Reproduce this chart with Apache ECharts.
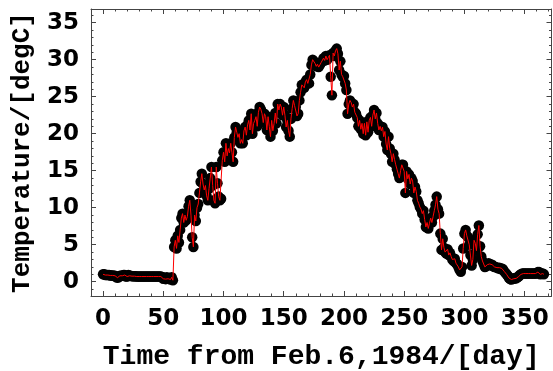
<!DOCTYPE html>
<html>
<head>
<meta charset="utf-8">
<script src="https://cdn.jsdelivr.net/npm/echarts@6/dist/echarts.min.js"></script>
<style>
  html, body { margin: 0; padding: 0; background: #fff; }
  #chart { width: 553px; height: 371px; }
</style>
</head>
<body>
<div id="chart"></div>
<script>
// Daily water temperature [degC], one value per day starting Feb. 6, 1984
const tempWinter = [
  1.0, 1.0, 0.9, 0.9, 0.9, 0.9, 0.85, 0.85, 0.85, 0.8,
  0.8, 0.6, 0.55, 0.6, 0.8, 0.8, 0.8, 0.9, 0.9, 0.7,
  0.7, 0.9, 0.8, 0.8, 0.75, 0.75, 0.75, 0.75, 0.7, 0.7,
  0.7, 0.7, 0.7, 0.7, 0.7, 0.7, 0.7, 0.7, 0.7, 0.7,
  0.7, 0.7, 0.7, 0.7, 0.7, 0.7, 0.7, 0.7, 0.7, 0.65,
  0.4, 0.55, 0.35, 0.6, 0.4, 0.5, 0.3, 0.6, 0.2
];
const tempSpring = [
  4.7, 5.6, 4.5, 6.2, 5.3, 7.0, 8.6, 9.2, 8.0, 9.0,
  8.3, 8.8, 10.2, 11.0, 9.0, 6.0, 4.7, 9.0, 8.2, 10.0,
  10.5, 12.0, 13.5, 14.6, 13.2, 12.4, 13.0, 11.6, 11.0, 12.6,
  14.0, 15.5, 13.0, 11.0, 10.6, 15.5, 13.3, 11.5, 11.0, 11.2,
  16.4, 17.5, 16.2, 18.7, 17.0, 18.0, 17.4, 18.7, 17.5, 16.2,
  19.5, 20.9
];
const tempEarlySummer = [
  20.2, 19.5, 20.0, 18.7, 19.2, 18.7, 20.4, 20.9, 19.8, 21.2,
  21.8, 20.5, 22.7, 20.0, 21.4, 21.8, 22.3, 21.0, 22.9, 23.6,
  23.3, 22.7, 21.5, 22.7, 22.3, 20.5, 22.3, 21.0, 19.6, 21.8,
  20.4, 21.4, 22.8, 21.4, 24.0, 23.2, 24.0, 23.6, 22.5, 23.6,
  22.5, 20.9, 21.8, 20.4, 19.6, 22.0, 23.4, 24.5, 23.8, 23.6,
  22.4, 22.7, 24.5, 25.6, 26.6
];
const tempSummer = [
  26.6, 26.2, 27.0, 27.3, 26.8, 26.8, 28.0, 29.3, 30.0, 29.8,
  29.5, 29.1, 29.4, 29.0, 29.3, 29.6, 29.8, 30.2, 29.9, 30.5,
  30.0, 30.3, 30.6, 27.7, 25.2, 30.9, 30.5, 31.2, 31.5, 30.8,
  28.6, 29.8, 28.0, 27.7, 27.8, 26.8, 25.9, 22.7, 24.0, 24.5,
  24.2, 23.6, 24.0, 22.9, 22.7, 22.2, 21.0, 21.8, 20.6, 21.4,
  20.0, 21.4, 19.8, 21.6, 20.2
];
const tempAutumn = [
  21.8, 22.2, 21.0, 22.5, 23.2, 22.0, 22.8, 21.4, 20.5, 21.0,
  20.4, 20.9, 19.6, 20.3, 18.6, 17.8, 19.6, 18.0, 17.3, 16.2,
  17.3, 16.5, 15.8, 15.2, 14.6, 14.0, 15.0, 15.8, 15.8, 14.9,
  12.0, 14.9, 13.9, 14.5, 13.2, 14.0, 13.6, 12.0, 12.8, 12.2,
  11.0, 10.6, 10.1, 9.8, 9.2, 9.6, 8.4, 7.4, 8.0, 7.2,
  7.9, 8.6, 8.0, 8.8, 9.6, 10.4, 11.5, 9.8, 9.2, 6.5
];
const tempLate = [
  4.3, 5.8, 4.6, 4.0, 3.8, 4.4, 3.6, 3.9, 3.4, 3.0,
  2.8, 3.1, 2.5, 2.4, 2.0, 1.6, 1.35, 2.0, 4.5, 6.5,
  7.0, 6.2, 6.0, 5.0, 3.6, 2.2, 3.0, 5.6, 5.2, 4.2,
  6.4, 7.6, 4.8, 3.4, 2.8, 2.4, 2.0, 2.1, 2.3, 2.5,
  2.4, 2.2, 2.3, 2.1, 2.0, 2.0, 1.9, 1.8, 1.9, 1.7,
  1.8, 1.7, 1.4, 1.2, 1.0, 0.8, 0.5, 0.35, 0.3, 0.45,
  0.4, 0.5, 0.45, 0.6, 0.7, 0.9, 1.0, 1.1, 1.1, 1.1,
  1.1, 1.1, 1.1, 1.1, 1.1, 1.1, 1.1, 1.1, 1.1, 1.1,
  1.3, 1.3, 1.0, 1.1, 1.1, 1.0
];

// Tick positions
const xMajorTicks = [0, 50, 100, 150, 200, 250, 300, 350];
const xMinorTicks = [0, 10, 20, 30, 40, 50, 60, 70, 80, 90, 100, 110, 120, 130, 140, 150, 160, 170, 180, 190, 200, 210, 220, 230, 240, 250, 260, 270, 280, 290, 300, 310, 320, 330, 340, 350, 360, 370];
const yMajorTicks = [0, 5, 10, 15, 20, 25, 30, 35];
const yMinorTicks = [-1, 0, 1, 2, 3, 4, 5, 6, 7, 8, 9, 10, 11, 12, 13, 14, 15, 16, 17, 18, 19, 20, 21, 22, 23, 24, 25, 26, 27, 28, 29, 30, 31, 32, 33, 34, 35, 36];

const temps = [].concat(tempWinter, tempSpring, tempEarlySummer, tempSummer, tempAutumn, tempLate);
const points = temps.map((t, day) => [day, t]);

const X_MIN = -10, X_MAX = 372.3;
const Y_MIN = -1.93, Y_MAX = 36.85;
const frameColor = '#444';
const tickFont = { fontFamily: 'DejaVu Sans', fontWeight: 'bold', fontSize: 23, color: '#000' };

function xAxisDef(pos, ticks, len, withLabels, showLine) {
  return {
    type: 'value', position: pos, min: X_MIN, max: X_MAX,
    axisLine: { show: showLine, onZero: false, lineStyle: { color: frameColor, width: 1 } },
    axisTick: { show: true, inside: true, length: len, customValues: ticks, lineStyle: { color: frameColor, width: 1 } },
    axisLabel: withLabels ? Object.assign({ show: true, margin: 12, customValues: ticks }, tickFont) : { show: false },
    splitLine: { show: false }
  };
}
function yAxisDef(pos, ticks, len, withLabels, showLine) {
  return {
    type: 'value', position: pos, min: Y_MIN, max: Y_MAX,
    axisLine: { show: showLine, onZero: false, lineStyle: { color: frameColor, width: 1 } },
    axisTick: { show: true, inside: true, length: len, customValues: ticks, lineStyle: { color: frameColor, width: 1 } },
    axisLabel: withLabels ? Object.assign({ show: true, margin: 12, customValues: ticks }, tickFont) : { show: false },
    splitLine: { show: false }
  };
}

const xMain = xAxisDef('bottom', xMajorTicks, 5, true, true);
xMain.name = 'Time from Feb.6,1984/[day]';
xMain.nameLocation = 'middle';
xMain.nameGap = 47;
xMain.nameTextStyle = { fontFamily: 'Liberation Mono', fontWeight: 'bold', fontSize: 28, color: '#000' };

const yMain = yAxisDef('left', yMajorTicks, 5, true, true);
yMain.name = 'Temperature/[degC]';
yMain.nameLocation = 'middle';
yMain.nameGap = 56;
yMain.nameTextStyle = { fontFamily: 'Liberation Mono', fontWeight: 'bold', fontSize: 26, color: '#000' };

const chart = echarts.init(document.getElementById('chart'), null, { renderer: 'canvas' });
chart.setOption({
  animation: false,
  backgroundColor: '#fff',
  grid: { left: 91, top: 9, right: 1.5, bottom: 75, containLabel: false, outerBoundsMode: 'none' },
  xAxis: [
    xMain,
    xAxisDef('bottom', xMinorTicks, 2.5, false, false),
    xAxisDef('top', xMajorTicks, 5, false, true),
    xAxisDef('top', xMinorTicks, 2.5, false, false)
  ],
  yAxis: [
    yMain,
    yAxisDef('left', yMinorTicks, 2.5, false, false),
    yAxisDef('right', yMajorTicks, 5, false, true),
    yAxisDef('right', yMinorTicks, 2.5, false, false)
  ],
  series: [
    {
      type: 'scatter', data: points, symbol: 'circle', symbolSize: 10.5,
      itemStyle: { color: '#000', opacity: 1 }, z: 2, silent: true
    },
    {
      type: 'line', data: points, showSymbol: false, symbol: 'none',
      lineStyle: { color: '#ff0000', width: 1 }, z: 3, silent: true
    }
  ]
});
</script>
</body>
</html>
